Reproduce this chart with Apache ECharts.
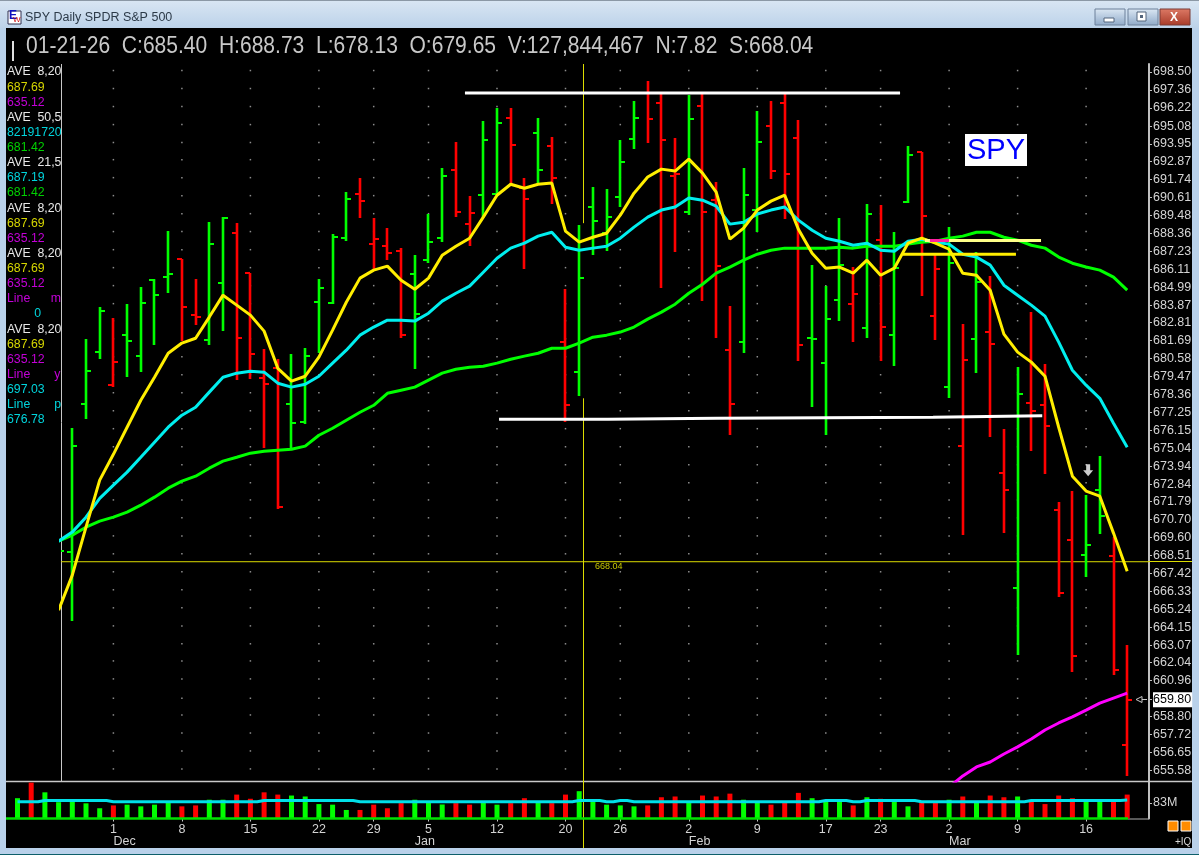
<!DOCTYPE html>
<html>
<head>
<meta charset="utf-8">
<title>SPY Daily SPDR S&P 500</title>
<style>
  html, body { margin: 0; padding: 0; background: #b9d1ea; overflow: hidden; }
  #main { width: 1199px; height: 855px; }
</style>
<script src="https://cdn.jsdelivr.net/npm/echarts@6/dist/echarts.min.js"></script>
</head>
<body>
<div id="main"></div>
<script>
const tradeDates = [
  '11-19','11-20','11-21','11-24','11-25','11-26','11-28',
  '12-01','12-02','12-03','12-04','12-05','12-08','12-09','12-10','12-11','12-12',
  '12-15','12-16','12-17','12-18','12-19','12-22','12-23','12-24','12-26','12-29','12-30','12-31',
  '01-02','01-05','01-06','01-07','01-08','01-09','01-12','01-13','01-14','01-15','01-16',
  '01-20','01-21','01-22','01-23','01-26','01-27','01-28','01-29','01-30',
  '02-02','02-03','02-04','02-05','02-06','02-09','02-10','02-11','02-12','02-13',
  '02-17','02-18','02-19','02-20','02-23','02-24','02-25','02-26','02-27',
  '03-02','03-03','03-04','03-05','03-06','03-09','03-10','03-11','03-12','03-13',
  '03-16','03-17','03-18','03-19',''
]
const weekTicks = ['12-01','12-08','12-15','12-22','12-29','01-05','01-12','01-20','01-26','02-02','02-09','02-17','02-23','03-02','03-09','03-16']
const monthTicks = { '12-01': 'Dec', '01-02': 'Jan', '02-02': 'Feb', '03-02': 'Mar' }

const opens = [664.9,665.8,665.2,667.3,668.70,677.74,680.96,678.92,682.01,680.71,685.42,685.61,686.73,683.25,681.70,685.23,688.35,685.86,679.35,679.96,677.74,676.64,684.05,683.99,688.04,690.80,687.67,687.54,687.23,685.80,686.67,688.04,692.31,688.92,690.73,690.80,695.58,691.17,694.64,693.82,681.58,679.72,689.99,688.35,690.61,694.26,697.17,696.54,691.93,689.67,696.34,690.42,681.08,681.58,689.80,695.08,696.54,694.33,681.82,680.28,684.18,683.93,682.44,687.92,682.01,690.30,693.44,683.19,678.80,675.17,681.76,682.20,673.52,666.52,677.80,677.68,671.26,669.43,668.52,672.48,668.46,657.09]
const highs = [667.0,666.4,667.6,670.0,676.27,681.76,683.75,683.06,683.93,684.99,685.48,688.48,686.73,685.48,689.04,689.36,688.98,685.86,681.14,680.52,680.83,681.20,685.48,688.29,690.92,691.80,689.30,688.67,687.42,686.98,689.55,692.44,694.07,690.67,695.39,696.22,696.22,691.80,695.58,694.39,684.86,688.85,691.24,691.11,694.20,696.66,697.93,697.11,694.33,697.05,697.11,691.55,683.81,692.44,696.03,696.66,697.11,695.46,686.36,685.05,689.30,686.24,690.17,690.11,688.41,693.82,693.44,686.98,688.73,682.69,687.17,685.67,676.21,680.02,683.44,680.21,671.74,672.42,672.18,674.55,669.61,663.08]
const lows = [663.4,662.8,664.3,665.8,664.53,676.82,680.52,678.80,679.41,679.72,681.39,684.61,681.64,682.63,681.39,682.26,679.23,679.29,675.04,671.32,675.04,676.51,680.89,683.93,687.85,689.30,686.05,686.67,681.82,679.90,686.48,687.79,689.36,687.54,689.36,690.73,691.36,686.11,691.49,690.17,676.64,678.24,686.98,687.23,689.99,693.63,694.01,684.92,687.17,689.48,684.12,681.82,675.84,680.89,688.41,691.74,689.23,680.40,677.56,675.84,682.88,681.58,681.82,680.40,680.09,690.23,684.43,681.70,678.11,669.74,679.66,675.72,669.86,662.48,674.86,673.46,665.97,661.46,667.18,669.80,661.28,655.25]
const closes = [665.8,664.6,666.4,668.8,675.16,679.78,683.50,680.34,681.64,683.99,684.49,685.80,683.75,683.13,687.67,689.30,681.82,680.83,678.98,671.44,676.57,680.71,684.92,688.10,690.48,690.36,687.98,687.10,682.01,683.31,687.79,691.93,689.67,689.61,694.20,695.27,693.88,690.48,692.31,691.80,677.68,685.55,689.11,689.36,692.81,695.58,695.52,694.20,692.06,695.52,689.67,686.30,677.74,690.73,694.07,692.25,692.06,681.39,681.80,683.00,686.36,684.55,689.55,682.51,686.17,693.26,689.42,686.11,686.48,680.46,685.30,681.45,672.48,678.36,677.32,676.39,666.21,662.42,669.13,670.90,661.58,659.80]
const volumes = [107,189,138,86,92,80,54,69,73,64,73,86,64,69,99,99,126,104,138,126,121,116,76,73,45,45,73,54,81,99,86,74,81,73,86,73,81,107,86,81,126,144,99,73,69,64,69,112,116,86,121,116,131,99,86,73,86,135,107,92,92,69,112,104,92,64,86,86,99,116,86,121,112,116,92,76,121,107,92,92,92,126]
const volumeAvg = [88,88,95,95,95,95,95,88,88,88,88,88,88,88,88,88,88,88,95,95,95,95,95,95,95,88,88,88,88,88,88,88,88,88,88,88,88,88,88,88,88,95,95,88,95,88,88,88,88,88,88,88,88,88,88,88,88,88,88,95,95,88,95,95,95,95,88,88,88,88,88,88,88,88,95,95,95,95,95,95,95,98]

const aveYellow = [null,null,null,665.19,667.31,670.22,673.09,674.67,676.33,677.99,679.41,680.89,681.52,681.82,683.13,684.49,683.87,683.25,682.26,679.96,679.17,679.47,680.65,682.32,684.05,685.55,686.05,686.30,685.42,684.86,685.55,686.98,687.54,688.04,689.36,690.73,691.42,691.17,691.42,691.49,688.48,687.79,688.10,688.35,689.48,690.86,691.87,692.37,692.25,693.00,692.12,690.92,687.98,688.67,689.80,690.36,690.73,688.60,687.10,686.17,686.24,685.86,686.67,685.73,686.17,687.73,688.04,687.73,687.35,685.86,685.73,684.80,682.07,680.96,680.34,679.47,676.33,673.33,672.42,672.11,669.86,667.55]
const aveCyan = [null,null,null,669.37,669.92,670.83,671.98,672.78,673.58,674.49,675.41,676.33,677.07,677.56,678.49,679.41,679.66,679.78,679.72,679.04,678.80,678.98,679.47,680.28,681.08,682.01,682.51,682.94,682.94,682.88,683.37,684.12,684.61,685.05,685.92,686.79,687.42,687.73,688.17,688.41,687.48,687.29,687.42,687.54,688.04,688.73,689.36,689.80,689.99,690.55,690.42,690.05,688.92,689.04,689.55,689.80,689.99,689.17,688.54,688.04,687.85,687.60,687.73,687.29,687.23,687.85,687.98,687.79,687.67,687.04,686.86,686.36,685.11,684.49,683.87,683.19,681.58,679.84,678.92,678.11,676.57,675.10]
const aveGreen = [null,null,null,669.37,669.74,670.22,670.59,670.83,671.14,671.56,672.05,672.60,673.03,673.33,673.82,674.25,674.49,674.74,674.86,674.92,674.98,675.17,675.84,676.27,676.76,677.25,677.68,678.42,678.61,678.80,679.23,679.66,679.90,680.03,680.09,680.28,680.52,680.71,680.89,681.20,681.20,681.52,681.88,682.01,682.20,682.51,683.00,683.44,683.93,684.61,685.17,685.86,686.24,686.67,687.04,687.29,687.42,687.42,687.42,687.42,687.48,687.42,687.54,687.54,687.54,687.67,687.79,687.85,688.04,688.17,688.41,688.41,688.10,687.92,687.60,687.42,686.86,686.48,686.24,686.05,685.61,684.80]
const aveMagenta = [654.59,655.25,655.79,656.08,656.56,656.98,657.45,657.99,658.41,658.77,659.18,659.60,659.90,660.20]
const aveMagentaStart = 68

// hand drawn lines on the chart, [bar position, price]
const resistanceLine = [[32.66,697.17],[64.42,697.17]]
const supportLine = [[35.15,676.82],[43.1,676.82],[43.1,676.88],[51.06,676.88],[51.06,676.95],[66.83,676.95],[66.83,677.04],[74.8,677.04]]
const paleLine = [[66.24,687.89],[74.71,687.89]]
const paleLineOverlap = [[66.6,687.89],[68.0,687.89]]
const yellowLevel = [[64.63,687.04],[72.88,687.04]]
const arrowMark = [78.15,673.7]

const crossPrice = 668.12
const crossBar = 41.314
const crossGapPrices = [688.98,678.11]

const priceTicks = [698.50,697.36,696.22,695.08,693.95,692.87,691.74,690.61,689.48,688.36,687.23,686.11,684.99,683.87,682.81,681.69,680.58,679.47,678.36,677.25,676.15,675.04,673.94,672.84,671.79,670.70,669.60,668.51,667.42,666.33,665.24,664.15,663.07,662.04,660.96,659.80,658.80,657.72,656.65,655.58]
const lastPrice = 659.80
const volumeTicks = [83]

const legendText = ['AVE  8,20','687.69','635.12','AVE  50,5','82191720','681.42','AVE  21,5','687.19','681.42','AVE  8,20','687.69','635.12','AVE  8,20','687.69','635.12','Line      m','        0','AVE  8,20','687.69','635.12','Line       y','697.03','Line       p','676.78']
const legendTone = ['w','y','m','w','c','g','w','c','g','w','y','m','w','y','m','m','c','w','y','m','m','c','c','c']
const headerText = '01-21-26  C:685.40  H:688.73  L:678.13  O:679.65  V:127,844,467  N:7.82  S:668.04'

const RED = '#ff0000'
const GREEN = '#00ff00'
const FONT = '"Liberation Sans", Arial, sans-serif'
const LABEL = '#d4d4d4'
const CROSS = '#dcdc00'

// bar spacing in the picture
const barStep = 13.7
const firstBarX = 17.5
const toneColor = { w: '#e8e8e8', y: '#d6d600', m: '#c400d8', c: '#00d4dc', g: '#00d000' }

const barIsUp = closes.map((c, i) => i === 0 || c >= closes[i - 1])

const hlocData = closes.map((c, i) => [i, opens[i], highs[i], lows[i], c, barIsUp[i] ? 1 : 0])
const indexed = arr => arr.map((v, i) => [i, v])
const weekIndex = weekTicks.map(d => tradeDates.indexOf(d))
const gridDots = []
weekIndex.forEach(i => priceTicks.forEach(p => gridDots.push([i, p])))

function renderHloc(params, api) {
  const x = api.value(0)
  const px = Math.round(api.coord([x, api.value(1)])[0])
  const py = v => Math.round(api.coord([x, v])[1])
  const open = py(api.value(1))
  const high = py(api.value(2))
  const low = py(api.value(3))
  const close = py(api.value(4))
  const color = api.value(5) ? GREEN : RED
  const stem = { stroke: color, lineWidth: 2.6, fill: null }
  const tick = { stroke: color, lineWidth: 2, fill: null }
  return {
    type: 'group',
    children: [
      { type: 'line', shape: { x1: px, y1: high, x2: px, y2: low }, style: stem },
      { type: 'line', shape: { x1: px - 5, y1: open, x2: px, y2: open }, style: tick },
      { type: 'line', shape: { x1: px, y1: close, x2: px + 5, y2: close }, style: tick }
    ]
  }
}

function priceLine(name, data, color, width, z) {
  return {
    name, type: 'line', data, xAxisIndex: 0, yAxisIndex: 0,
    symbol: 'none', silent: true, z: z || 5,
    lineStyle: { color, width },
    clip: true
  }
}

function rect(x, y, w, h, fill, z, stroke) {
  return { type: 'rect', shape: { x, y, width: w, height: h }, style: { fill, stroke: stroke || null }, z: z || 0, silent: true }
}
function hline(x1, y1, x2, y2, stroke, width, z) {
  return { type: 'line', shape: { x1, y1, x2, y2 }, style: { stroke, lineWidth: width || 1 }, z: z || 1, silent: true }
}
function label(text, x, y, fill, size, z, extra) {
  return {
    type: 'text', x, y, z: z || 6, silent: true,
    style: Object.assign({ text, fill, font: size + 'px ' + FONT, verticalAlign: 'middle' }, extra || {})
  }
}
function vGrad(a, b) {
  return new echarts.graphic.LinearGradient(0, 0, 0, 1, [{ offset: 0, color: a }, { offset: 1, color: b }])
}

const headerLabel = label(headerText, 26, 47, '#c8c8c8', 23.2, 6)
headerLabel.scaleX = 0.907

const chrome = [
  rect(0, 0, 1199, 855, '#b9d1ea', -3),
  rect(0, 0, 1199, 28, vGrad('#d9e6f3', '#bcd2e9'), -3),
  rect(0, 0, 1199, 1, '#8b98a5', -2),
  rect(0, 854, 1199, 1, '#0d5f6a', -2),
  rect(6, 28, 1186, 820, '#000000', -2),
  // title bar
  rect(8, 11, 13, 13, '#ffffff', 1, '#303050'),
  label('E', 9, 16, '#1010c0', 8, 2, { fontWeight: 'bold' }),
  label('W', 13, 20, '#d01010', 8, 2),
  label('SPY Daily SPDR S&P 500', 25, 18, '#2c3a48', 12.5, 2),
  rect(1095, 9, 30, 16, vGrad('#dce8f4', '#8fa9c8'), 1, '#6d809a'),
  rect(1128, 9, 30, 16, vGrad('#dce8f4', '#8fa9c8'), 1, '#6d809a'),
  rect(1160, 9, 30, 16, vGrad('#dd7a66', '#a83a28'), 1, '#7a3a34'),
  rect(1104, 18, 10, 4, '#ffffff', 2, '#53657c'),
  rect(1137, 12, 9, 9, '#ffffff', 2, '#53657c'),
  rect(1140, 15, 3, 3, '#53657c', 3),
  label('X', 1170, 17.5, '#ffffff', 15, 3, { fontWeight: 'bold' }),
  // panel frame
  hline(61.5, 64, 61.5, 781, '#c8c8c8', 1),
  hline(6, 781.5, 1192, 781.5, '#c8c8c8', 1.5),
  hline(6, 818.5, 1128, 818.5, '#00e000', 2.5, 4),
  hline(1128, 819, 1149, 819, '#b0b0b0', 1),
  // crosshair parts outside the price panel
  hline(583.5, 781, 583.5, 848, CROSS, 1, 3),
  hline(1149, 561.5, 1192, 561.5, CROSS, 1, 1),
  label('668.04', 595, 567, '#c8c800', 9),
  // header line
  rect(12, 41, 2, 20, '#e0e0e0', 2),
  headerLabel,
  // SPY tag
  rect(965, 134, 62, 32, '#ffffff', 8),
  label('SPY', 967, 150.5, '#0000ff', 29, 9),
  // current price pointer
  { type: 'polygon', shape: { points: [[1136, 699.5], [1142, 696.5], [1142, 702.5]] }, style: { fill: '#000', stroke: '#c8c8c8' }, z: 4, silent: true },
  hline(1142, 699.5, 1147, 699.5, '#c8c8c8', 1, 4),
  // lower right buttons
  rect(1168, 821, 10, 10, '#ff8c00', 4, '#ffffff'),
  rect(1181, 821, 10, 10, '#ff8c00', 4, '#ffffff'),
  label('+IQ', 1175, 842, '#d8d8d8', 10)
]
legendText.forEach((t, k) => {
  chrome.push(label(t, 7, 72 + k * 15.13, toneColor[legendTone[k]], 12.3))
})

const chart = echarts.init(document.getElementById('main'), null, { renderer: 'canvas' })

chart.setOption({
  animation: false,
  backgroundColor: 'transparent',
  textStyle: { fontFamily: FONT },
  graphic: { elements: chrome },
  grid: [
    { left: 61, top: 64, width: 1088, height: 717 },
    { left: firstBarX - barStep / 2, top: 781.5, width: barStep * tradeDates.length, height: 37 }
  ],
  xAxis: [
    {
      type: 'value', gridIndex: 0, show: false,
      min: (61 - firstBarX) / barStep, max: (1149 - firstBarX) / barStep
    },
    {
      type: 'category', gridIndex: 1, data: tradeDates,
      axisLine: { show: false },
      axisTick: {
        show: true, alignWithLabel: true, length: 3,
        interval: (i, v) => weekTicks.includes(v),
        lineStyle: { color: '#c8c8c8' }
      },
      axisLabel: {
        interval: (i, v) => weekTicks.includes(v),
        formatter: v => String(Number(v.split('-')[1])),
        color: LABEL, fontSize: 12.5, margin: 5
      }
    },
    {
      type: 'category', gridIndex: 1, data: tradeDates, position: 'bottom', offset: 12,
      axisLine: { show: false },
      axisTick: { show: false },
      axisLabel: {
        interval: (i, v) => v in monthTicks,
        formatter: v => monthTicks[v] || '',
        color: LABEL, fontSize: 12.5, margin: 5, align: 'left'
      }
    }
  ],
  yAxis: [
    {
      type: 'log', gridIndex: 0, position: 'right',
      min: 654.95, max: 699.01,
      splitLine: { show: false },
      axisLine: { show: true, lineStyle: { color: '#c0c0c0', width: 2 } },
      axisTick: { show: true, customValues: priceTicks, length: 3, lineStyle: { color: '#c0c0c0' } },
      axisLabel: {
        customValues: priceTicks,
        formatter: v => {
          const s = Number(v).toFixed(2)
          return Number(s) === lastPrice ? '{box|' + s + '}' : s
        },
        color: LABEL, fontSize: 12.5, margin: 4,
        rich: { box: { backgroundColor: '#ffffff', color: '#000000', fontSize: 12.5, padding: [1, 1, 1, 0] } }
      }
    },
    {
      type: 'value', gridIndex: 1, position: 'right', offset: 1.25,
      min: 0, max: 195,
      splitLine: { show: false },
      axisLine: { show: true, lineStyle: { color: '#c0c0c0', width: 2 } },
      axisTick: { show: true, customValues: volumeTicks, length: 3, lineStyle: { color: '#c0c0c0' } },
      axisLabel: {
        customValues: volumeTicks,
        formatter: v => v + 'M',
        color: LABEL, fontSize: 12.5, margin: 4
      }
    }
  ],
  series: [
    {
      name: 'grid dots', type: 'scatter', xAxisIndex: 0, yAxisIndex: 0, data: gridDots,
      symbol: 'rect', symbolSize: 1.5, symbolOffset: [0, -1.5], silent: true, z: 1,
      itemStyle: { color: '#b0b0b0' }
    },
    priceLine('cross h', [[(61 - firstBarX) / barStep, crossPrice], [(1149 - firstBarX) / barStep, crossPrice]], CROSS, 1, 2),
    priceLine('cross v', [[crossBar, 699.01], [crossBar, crossGapPrices[0]], [crossBar, null], [crossBar, crossGapPrices[1]], [crossBar, 654.95]], CROSS, 1, 2),
    {
      name: 'SPY', type: 'custom', xAxisIndex: 0, yAxisIndex: 0, data: hlocData,
      renderItem: renderHloc, clip: true, silent: true, z: 3,
      encode: { x: 0, y: [1, 2, 3, 4] }
    },
    priceLine('ave green', indexed(aveGreen), GREEN, 3),
    priceLine('ave magenta', aveMagenta.map((v, i) => [aveMagentaStart + i, v]), '#ff00ff', 3),
    priceLine('ave cyan', indexed(aveCyan), '#00eeee', 3, 6),
    priceLine('ave yellow', indexed(aveYellow), '#ffee00', 3, 7),
    priceLine('resistance', resistanceLine, '#ffffff', 3, 8),
    priceLine('support', supportLine, '#ffffff', 3, 8),
    priceLine('pale level', paleLine, '#ffff88', 3, 8),
    priceLine('pale level overlap', paleLineOverlap, '#ff20a0', 3, 9),
    priceLine('yellow level', yellowLevel, '#ffee00', 3, 8),
    {
      name: 'arrow', type: 'scatter', xAxisIndex: 0, yAxisIndex: 0, data: [arrowMark],
      symbol: 'path://M3,0 L7,0 L7,6 L10,6 L5,12 L0,6 L3,6 Z', symbolSize: [10, 12], silent: true, z: 9,
      itemStyle: { color: '#ffffff' }
    },
    {
      name: 'volume', type: 'bar', xAxisIndex: 1, yAxisIndex: 1, barWidth: 5, silent: true, z: 3,
      data: volumes.map((v, i) => ({ value: v, itemStyle: { color: barIsUp[i] ? GREEN : RED } }))
    },
    {
      name: 'volume average', type: 'line', xAxisIndex: 1, yAxisIndex: 1, data: volumeAvg,
      step: 'middle', symbol: 'none', silent: true, z: 5,
      lineStyle: { color: '#00e0e8', width: 3 }
    }
  ]
})
</script>
</body>
</html>
